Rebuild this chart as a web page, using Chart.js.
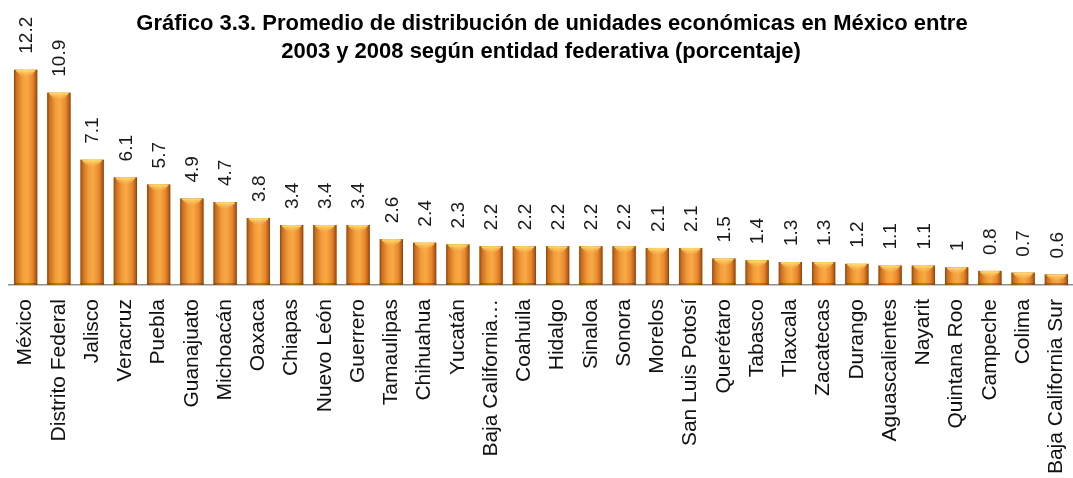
<!DOCTYPE html>
<html lang="es">
<head>
<meta charset="utf-8">
<title>Unidades económicas por entidad federativa</title>
<script src="https://cdn.jsdelivr.net/npm/chart.js@4.4.1/dist/chart.umd.min.js"></script>
<style>
  html, body { margin: 0; padding: 0; background: #fff; overflow: hidden; }
  #wrap { width: 1073px; height: 478px; }
</style>
</head>
<body>
<div id="wrap"><canvas id="chart" width="1073" height="478"></canvas></div>
<script>
const estados = ['México', 'Distrito Federal', 'Jalisco', 'Veracruz', 'Puebla', 'Guanajuato',
  'Michoacán', 'Oaxaca', 'Chiapas', 'Nuevo León', 'Guerrero', 'Tamaulipas', 'Chihuahua',
  'Yucatán', 'Baja California…', 'Coahuila', 'Hidalgo', 'Sinaloa', 'Sonora', 'Morelos',
  'San Luis Potosí', 'Querétaro', 'Tabasco', 'Tlaxcala', 'Zacatecas', 'Durango',
  'Aguascalientes', 'Nayarit', 'Quintana Roo', 'Campeche', 'Colima', 'Baja California Sur'];
const porcentajes = [12.2, 10.9, 7.1, 6.1, 5.7, 4.9, 4.7, 3.8, 3.4, 3.4, 3.4, 2.6, 2.4, 2.3,
  2.2, 2.2, 2.2, 2.2, 2.2, 2.1, 2.1, 1.5, 1.4, 1.3, 1.3, 1.2, 1.1, 1.1, 1, 0.8, 0.7, 0.6];
const titulo = [
  'Gráfico 3.3. Promedio de distribución de unidades económicas en México entre',
  '2003 y 2008 según entidad federativa (porcentaje)'
];

const FONT = "'Liberation Sans', Arial, sans-serif";

// two-line bold title
const titlePlugin = {
  id: 'titleText',
  afterDraw(chart) {
    const ctx = chart.ctx;
    ctx.save();
    ctx.fillStyle = '#000';
    ctx.font = 'bold 22px ' + FONT;
    ctx.textAlign = 'center';
    ctx.textBaseline = 'alphabetic';
    ctx.fillText(titulo[0], 552, 30);
    ctx.fillText(titulo[1], 541, 58);
    ctx.restore();
  }
};

// cylinder-like shading painted over each bar
const shadePlugin = {
  id: 'shade',
  afterDatasetsDraw(chart) {
    const ctx = chart.ctx;
    const meta = chart.getDatasetMeta(0);
    ctx.save();
    meta.data.forEach(bar => {
      const { x, y, base, width } = bar.getProps(['x', 'y', 'base', 'width'], true);
      const left = x - width / 2;
      const h = base - y;
      const g = ctx.createLinearGradient(left, 0, left + width, 0);
      g.addColorStop(0, '#8a4712');
      g.addColorStop(0.1, '#cc6e1e');
      g.addColorStop(0.35, '#f29c3a');
      g.addColorStop(0.55, '#f8aa46');
      g.addColorStop(0.8, '#e6872c');
      g.addColorStop(0.93, '#b85e18');
      g.addColorStop(1, '#7e400f');
      ctx.fillStyle = g;
      ctx.fillRect(left, y, width, h);

      // light cap at the top of the bar
      const capH = Math.min(7, h * 0.6);
      const cg = ctx.createLinearGradient(0, y, 0, y + capH);
      cg.addColorStop(0, 'rgba(255, 226, 120, 0.95)');
      cg.addColorStop(1, 'rgba(255, 200, 90, 0)');
      ctx.fillStyle = cg;
      ctx.beginPath();
      ctx.moveTo(left + 2, y + 1);
      ctx.lineTo(left + width - 2, y + 1);
      ctx.quadraticCurveTo(x, y + capH * 2, left + 2, y + 1);
      ctx.fill();
      ctx.fillStyle = 'rgba(255, 222, 110, 0.8)';
      ctx.fillRect(left + 2, y, width - 4, 1.5);

      // darker foot
      ctx.fillStyle = 'rgba(110, 55, 10, 0.45)';
      ctx.fillRect(left, base - 2, width, 2);
    });
    ctx.restore();
  }
};

// rotated value labels above each bar
const valuePlugin = {
  id: 'valores',
  afterDatasetsDraw(chart) {
    const ctx = chart.ctx;
    const meta = chart.getDatasetMeta(0);
    ctx.save();
    ctx.fillStyle = '#1a1a1a';
    ctx.font = '19px ' + FONT;
    ctx.textAlign = 'left';
    ctx.textBaseline = 'middle';
    meta.data.forEach((bar, i) => {
      ctx.save();
      ctx.translate(bar.x + 1, bar.y - 16);
      ctx.rotate(-Math.PI / 2);
      ctx.fillText(String(porcentajes[i]), 0, 0);
      ctx.restore();
    });
    ctx.restore();
  }
};

new Chart(document.getElementById('chart'), {
  type: 'bar',
  data: {
    labels: estados,
    datasets: [{
      data: porcentajes,
      backgroundColor: '#e88a2a',
      borderWidth: 0,
      barPercentage: 0.7,
      categoryPercentage: 1
    }]
  },
  options: {
    responsive: false,
    animation: false,
    layout: { padding: { top: 38, left: 9, right: -3, bottom: 0 } },
    plugins: {
      legend: { display: false },
      title: { display: false },
      tooltip: { enabled: false }
    },
    scales: {
      x: {
        grid: { display: false, drawTicks: false },
        border: { display: true, color: '#8f8f8f', width: 1.5 },
        ticks: {
          autoSkip: false,
          minRotation: 90,
          maxRotation: 90,
          padding: 14,
          color: '#111',
          font: { family: FONT, size: 21 }
        },
        afterFit(scale) {
          scale.height = 193;
          scale.paddingLeft = 0;
          scale.paddingRight = 0;
        }
      },
      y: {
        display: false,
        min: 0,
        max: 14
      }
    }
  },
  plugins: [shadePlugin, valuePlugin, titlePlugin]
});
</script>
</body>
</html>
